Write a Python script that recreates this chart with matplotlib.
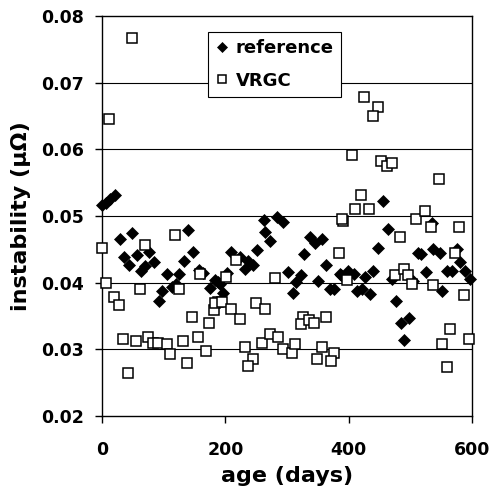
import matplotlib
matplotlib.use("Agg")
import matplotlib.pyplot as plt

plt.rcParams['font.family'] = ['DejaVu Sans']

# reference series (age in days, instability in micro-ohm)
ref_x = [0, 6, 13, 21, 29, 48, 36, 57, 76, 44, 63, 70, 84, 140, 147, 133, 106, 125, 120, 113,
         97, 93, 158, 164, 175, 183, 191, 197, 262, 283, 294, 264, 272, 252, 210, 224, 237, 245,
         232, 337, 345, 357, 328, 364, 301, 323, 315, 309, 351, 370, 377, 388, 188, 202, 455,
         463, 535, 448, 512, 517, 537, 548, 575, 580, 589, 597, 386, 399, 408, 426, 440, 413,
         421, 435, 471, 504, 525, 552, 560, 567, 476, 485, 498, 490]
ref_y = [0.0516, 0.0520, 0.0525, 0.0532, 0.0466, 0.0475, 0.0439, 0.0442, 0.0446, 0.0427,
         0.0418, 0.0425, 0.0431, 0.0479, 0.0446, 0.0433, 0.0413, 0.0413, 0.0398, 0.0393,
         0.0387, 0.0372, 0.0419, 0.0414, 0.0392, 0.0404, 0.0398, 0.0385, 0.0494, 0.0499,
         0.0491, 0.0476, 0.0463, 0.0449, 0.0446, 0.0438, 0.0433, 0.0426, 0.0420, 0.0468,
         0.0459, 0.0465, 0.0443, 0.0426, 0.0416, 0.0412, 0.0401, 0.0384, 0.0403, 0.0391,
         0.0391, 0.0412, 0.0401, 0.0415, 0.0522, 0.0480, 0.0489, 0.0452, 0.0444, 0.0443,
         0.0450, 0.0444, 0.0450, 0.0431, 0.0417, 0.0406, 0.0413, 0.0418, 0.0413, 0.0408,
         0.0418, 0.0388, 0.0391, 0.0383, 0.0405, 0.0403, 0.0416, 0.0388, 0.0418, 0.0418,
         0.0372, 0.0339, 0.0347, 0.0314]

# VRGC series
vrgc_x = [48, 12, 425, 447, 439, 406, 453, 462, 470, 546, 420, 411, 433, 390, 483, 510, 524,
          533, 579, 118, 0, 70, 6, 20, 28, 62, 125, 159, 188, 182, 146, 174, 34, 55, 75, 83,
          91, 105, 111, 132, 155, 168, 138, 42, 389, 218, 384, 201, 281, 183, 195, 209, 223,
          250, 264, 326, 322, 336, 344, 363, 232, 245, 236, 259, 272, 286, 294, 308, 313, 357,
          377, 349, 371, 398, 475, 489, 497, 502, 537, 572, 587, 564, 552, 595, 560]
vrgc_y = [0.0767, 0.0645, 0.0679, 0.0664, 0.0650, 0.0592, 0.0582, 0.0575, 0.0580, 0.0555,
          0.0532, 0.0511, 0.0511, 0.0493, 0.0469, 0.0496, 0.0508, 0.0484, 0.0483, 0.0471,
          0.0452, 0.0456, 0.0400, 0.0378, 0.0366, 0.0391, 0.0390, 0.0413, 0.0371, 0.0359,
          0.0349, 0.0340, 0.0315, 0.0313, 0.0318, 0.0310, 0.0310, 0.0308, 0.0293, 0.0313,
          0.0318, 0.0298, 0.0280, 0.0265, 0.0496, 0.0434, 0.0445, 0.0408, 0.0407, 0.0370,
          0.0371, 0.0360, 0.0345, 0.0369, 0.0360, 0.0349, 0.0338, 0.0344, 0.0340, 0.0348,
          0.0303, 0.0285, 0.0275, 0.0310, 0.0323, 0.0318, 0.0301, 0.0295, 0.0308, 0.0303,
          0.0295, 0.0285, 0.0283, 0.0404, 0.0412, 0.0420, 0.0412, 0.0398, 0.0396, 0.0445,
          0.0382, 0.0330, 0.0308, 0.0315, 0.0273]

x_ticks = [0, 200, 400, 600]
y_ticks = [0.02, 0.03, 0.04, 0.05, 0.06, 0.07, 0.08]
y_tick_labels = ["0.02", "0.03", "0.04", "0.05", "0.06", "0.07", "0.08"]

fig = plt.figure(figsize=(4.91, 4.93), dpi=100)
ax = fig.add_axes([102/491, 1 - 416/493, 370/491, 400/493])

ax.set_xlim(0, 600)
ax.set_ylim(0.02, 0.08)
ax.set_yticks(y_ticks)
ax.set_yticklabels(y_tick_labels)
ax.set_xticks(x_ticks)

for yv in y_ticks[1:-1]:
    ax.axhline(yv, color='black', lw=0.8, zorder=1)

ax.plot(ref_x, ref_y, linestyle='none', marker='D', markersize=5.8,
        mfc='black', mec='black', mew=0.5, label='reference', zorder=3, clip_on=False)
ax.plot(vrgc_x, vrgc_y, linestyle='none', marker='s', markersize=6.6,
        mfc='white', mec='black', mew=1.1, label='VRGC', zorder=3, clip_on=False)

for s in ax.spines.values():
    s.set_linewidth(1.0)
    s.set_color('black')

ax.tick_params(axis='both', direction='out', length=5, width=1, colors='black',
               labelsize=12.5)
ax.tick_params(axis='x', pad=13)
ax.tick_params(axis='y', pad=8)
for lab in ax.get_xticklabels() + ax.get_yticklabels():
    lab.set_fontweight('bold')

ax.set_xlabel('age (days)', fontsize=16, fontweight='bold', labelpad=5)
ax.set_ylabel('instability (µΩ)', fontsize=16, fontweight='bold', labelpad=7)

leg = ax.legend(loc='upper left', bbox_to_anchor=((208-102)/370, (416-32)/400),
                frameon=True, fancybox=False, edgecolor='black', framealpha=1,
                prop={'weight': 'bold', 'size': 13}, handletextpad=0.35,
                borderpad=0.4, labelspacing=0.8, handlelength=0.8, borderaxespad=0,
                markerscale=0.8)
leg.get_frame().set_linewidth(0.8)

fig.savefig('out.png', dpi=100)
